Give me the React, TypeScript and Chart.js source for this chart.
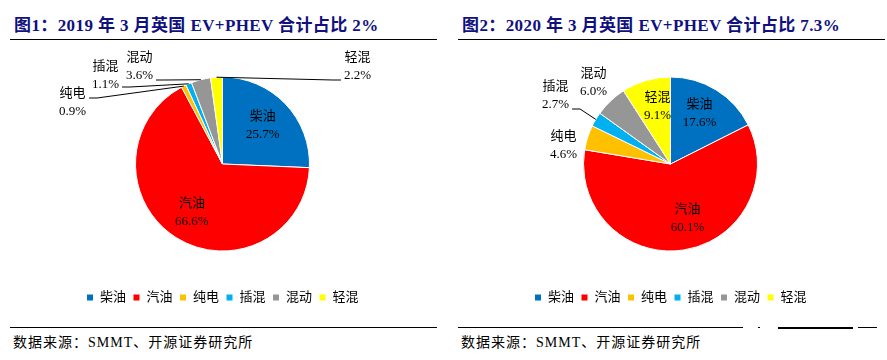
import React, { useEffect, useRef } from "react";
import { Chart, registerables } from "chart.js";

Chart.register(...registerables);

const categories = ["柴油", "汽油", "纯电", "插混", "混动", "轻混"];
const values2019 = [25.7, 66.6, 0.9, 1.1, 3.6, 2.2];
const values2020 = [17.6, 60.1, 4.6, 2.7, 6.0, 9.1];
const sliceColors = ["#0070C0", "#FF0000", "#FFC000", "#00B0F0", "#969696", "#FFFF00"];
const title2019 = "图1：2019 年 3 月英国 EV+PHEV 合计占比 2%";
const title2020 = "图2：2020 年 3 月英国 EV+PHEV 合计占比 7.3%";
const sourceText = "数据来源：SMMT、开源证券研究所";

type LabelCfg = {
  mode: "in" | "out";
  f?: number;
  dx?: number;
  dy?: number;
  leader?: boolean;
  leadDy?: number;
};

const labels2019: LabelCfg[] = [
  { mode: "in", f: 0.64 },
  { mode: "in", f: 0.66 },
  { mode: "out", dx: -150, dy: -61, leader: true, leadDy: -5 },
  { mode: "out", dx: -117, dy: -88, leader: true, leadDy: 11 },
  { mode: "out", dx: -83, dy: -97, leader: true, leadDy: 13 },
  { mode: "out", dx: 135, dy: -97, leader: true, leadDy: 13 },
];
const labels2020: LabelCfg[] = [
  { mode: "out", dx: 29, dy: -50 },
  { mode: "out", dx: 17, dy: 55 },
  { mode: "out", dx: -107, dy: -18 },
  { mode: "out", dx: -115, dy: -68, leader: true, leadDy: 13 },
  { mode: "out", dx: -77, dy: -81 },
  { mode: "out", dx: -13, dy: -57 },
];

const FONT = "'Liberation Serif', 'Noto Sans CJK SC', serif";

const labelPlugin = {
  id: "sliceLabels",
  afterDatasetsDraw(chart: any) {
    const cfgs: LabelCfg[] = chart.options.plugins.sliceLabels.cfgs;
    const ctx = chart.ctx;
    const meta = chart.getDatasetMeta(0);
    const data = chart.data.datasets[0].data as number[];
    const names = chart.data.labels as string[];
    ctx.save();
    ctx.font = `13px ${FONT}`;
    ctx.fillStyle = "#000";
    ctx.textAlign = "center";
    ctx.textBaseline = "middle";
    meta.data.forEach((arc: any, i: number) => {
      const c = cfgs[i];
      const { x: cx, y: cy, startAngle, endAngle, outerRadius } = arc.getProps(
        ["x", "y", "startAngle", "endAngle", "outerRadius"],
        true
      );
      const mid = (startAngle + endAngle) / 2;
      let lx: number, ly: number;
      if (c.mode === "in") {
        lx = cx + Math.cos(mid) * outerRadius * (c.f || 0.65);
        ly = cy + Math.sin(mid) * outerRadius * (c.f || 0.65);
      } else {
        lx = cx + (c.dx || 0);
        ly = cy + (c.dy || 0);
      }
      const name = names[i];
      const pct = data[i].toFixed(1) + "%";
      ctx.fillText(name, lx, ly - 9);
      ctx.fillText(pct, lx, ly + 9);
      if (c.leader) {
        const w = Math.max(ctx.measureText(name).width, ctx.measureText(pct).width);
        const ex = cx + Math.cos(mid) * outerRadius;
        const ey = cy + Math.sin(mid) * outerRadius;
        const side = lx < ex ? 1 : -1;
        const sx = lx + side * (w / 2 + 3);
        const sy = ly + (c.leadDy || 0);
        ctx.beginPath();
        ctx.strokeStyle = "#000";
        ctx.lineWidth = 1;
        ctx.moveTo(sx, sy);
        ctx.lineTo(sx + side * 8, sy);
        ctx.lineTo(ex, ey);
        ctx.stroke();
      }
    });
    ctx.restore();
  },
};

function PieChart({ values, cfgs }: { values: number[]; cfgs: LabelCfg[] }) {
  const ref = useRef<HTMLCanvasElement>(null);
  useEffect(() => {
    if (!ref.current) return;
    const chart = new Chart(ref.current, {
      type: "pie",
      data: {
        labels: categories,
        datasets: [
          {
            data: values,
            backgroundColor: sliceColors,
            borderColor: "#ffffff",
            borderWidth: 1,
            radius: 87,
          },
        ],
      },
      options: {
        animation: false,
        responsive: false,
        maintainAspectRatio: false,
        layout: { padding: 0 },
        plugins: {
          tooltip: { enabled: false },
          legend: {
            position: "bottom",
            labels: {
              boxWidth: 7,
              boxHeight: 7,
              padding: 7,
              color: "#000",
              font: { size: 13, family: FONT },
            },
          },
          sliceLabels: { cfgs },
        } as any,
      },
      plugins: [labelPlugin],
    });
    return () => chart.destroy();
  }, [values, cfgs]);
  return <canvas ref={ref} width={427} height={270} style={{ width: 427, height: 270, display: "block" }} />;
}

const line = (left: number, top: number, width: number, h = 1): React.CSSProperties => ({
  position: "absolute",
  left,
  top,
  width,
  height: h,
  background: "#000",
});

function Panel({ left, title, values, cfgs }: { left: number; title: string; values: number[]; cfgs: LabelCfg[] }) {
  return (
    <>
      <div
        style={{
          position: "absolute",
          left: left + 4,
          top: 14,
          fontFamily: FONT,
          fontWeight: "bold",
          fontSize: 17,
          letterSpacing: "0.4px",
          color: "#10107E",
          whiteSpace: "nowrap",
          lineHeight: "24px",
        }}
      >
        {title}
      </div>
      <div style={line(left, 39, 427)} />
      <div style={{ position: "absolute", left: left - 1.5, top: 44 }}>
        <PieChart values={values} cfgs={cfgs} />
      </div>
      <div
        style={{
          position: "absolute",
          left: left + 3,
          top: 334,
          fontFamily: FONT,
          fontSize: 14,
          letterSpacing: "1px",
          color: "#000",
          whiteSpace: "nowrap",
          lineHeight: "18px",
        }}
      >
        {sourceText}
      </div>
    </>
  );
}

export default function App() {
  return (
    <div
      style={{
        position: "fixed",
        left: 0,
        top: 0,
        width: 887,
        height: 360,
        background: "#fff",
        overflow: "hidden",
      }}
    >
      <Panel left={10} title={title2019} values={values2019} cfgs={labels2019} />
      <Panel left={458} title={title2020} values={values2020} cfgs={labels2020} />
      <div style={line(10, 327, 427)} />
      <div style={line(458, 327, 285)} />
      <div style={line(758, 327, 2)} />
      <div style={line(778, 327, 75, 2)} />
      <div style={line(858, 327, 19)} />
    </div>
  );
}
